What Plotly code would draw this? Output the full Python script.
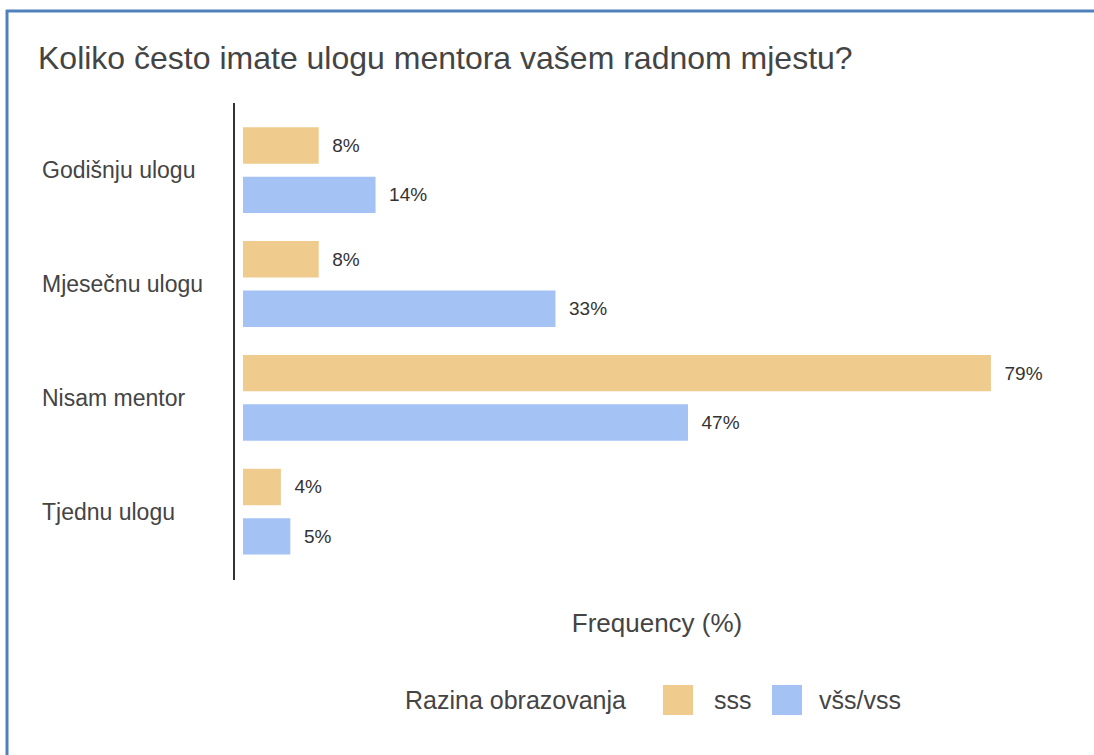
import plotly.graph_objects as go

# ---- data ----
categories = ["Godišnju ulogu", "Mjesečnu ulogu", "Nisam mentor", "Tjednu ulogu"]
sss_values = [8, 8, 79, 4]
vss_values = [14, 33, 47, 5]
series_names = ["sss", "všs/vss"]
series_colors = ["#EFCC8E", "#A4C2F4"]

title_text = "Koliko često imate ulogu mentora vašem radnom mjestu?"
x_title = "Frequency (%)"
legend_title = "Razina obrazovanja"

# ---- layout geometry (pixels) ----
W, H = 1094, 755
L, R, T, B = 235, 1079, 103, 580
pw, ph = R - L, B - T

def px(x):
    return (x - L) / pw

def py(y):
    return (B - y) / ph

FONT = "Liberation Sans, Arial, sans-serif"
TXT = "#444444"

fig = go.Figure()
offsets = [-0.377, 0.057]
for name, vals, col, off in zip(series_names, [sss_values, vss_values], series_colors, offsets):
    fig.add_trace(go.Bar(
        y=categories, x=vals, name=name, orientation="h",
        marker=dict(color=col, line=dict(width=0)),
        width=0.32, offset=off,
        text=[f"{v}%" for v in vals],
        texttemplate="\u00a0\u00a0%{text}",
        textposition="outside", constraintext="none", cliponaxis=False,
        textfont=dict(family=FONT, size=19, color="#333333"),
        hoverinfo="skip", showlegend=False,
    ))

annotations = []
for c in categories:
    annotations.append(dict(
        x=px(40), xref="paper", y=c, yref="y", text=c, showarrow=False,
        xanchor="left", yanchor="middle",
        font=dict(family=FONT, size=23, color=TXT),
    ))

# legend (drawn as layout items)
leg_y = py(700)
annotations.append(dict(x=px(403), xref="paper", y=leg_y, yref="paper", text=legend_title,
                        showarrow=False, xanchor="left", yanchor="middle",
                        font=dict(family=FONT, size=25, color=TXT)))
leg_swatch_x = [663, 772]
leg_text_x = [712, 817]
shapes = []
for name, col, sx, tx in zip(series_names, series_colors, leg_swatch_x, leg_text_x):
    shapes.append(dict(type="rect", xref="paper", yref="paper",
                       x0=px(sx), x1=px(sx + 30), y0=py(685), y1=py(715),
                       fillcolor=col, line=dict(width=0)))
    annotations.append(dict(x=px(tx), xref="paper", y=leg_y, yref="paper", text=name,
                            showarrow=False, xanchor="left", yanchor="middle",
                            font=dict(family=FONT, size=25, color=TXT)))

# frame lines (top and left)
shapes += [
    dict(type="line", xref="paper", yref="paper", x0=px(6), x1=px(W + 5), y0=py(11), y1=py(11),
         line=dict(color="#4F81BD", width=3)),
    dict(type="line", xref="paper", yref="paper", x0=px(7), x1=px(7), y0=py(10), y1=py(H + 5),
         line=dict(color="#4F81BD", width=3)),
]

fig.update_layout(
    width=W, height=H,
    margin=dict(l=L, r=W - R, t=T, b=H - B, pad=0),
    paper_bgcolor="white", plot_bgcolor="white",
    barmode="group",
    title=dict(text=title_text, x=38 / W, xanchor="left", xref="container",
               y=1 - 58 / H, yanchor="middle", yref="container",
               font=dict(family=FONT, size=32, color=TXT)),
    xaxis=dict(range=[-0.845, 88.3], showgrid=False, zeroline=False, showline=False,
               showticklabels=False, ticks="",
               title=dict(text=x_title, standoff=33,
                          font=dict(family=FONT, size=26, color=TXT))),
    yaxis=dict(type="category", categoryorder="array", categoryarray=categories,
               range=[3.6, -0.59], showgrid=False, zeroline=False,
               showline=True, linecolor="#333333", linewidth=2,
               showticklabels=False, ticks=""),
    annotations=annotations,
    shapes=shapes,
    showlegend=False,
)

fig.write_html("out.html", config={"displayModeBar": False},
               post_script="document.body.style.margin='0px';")
